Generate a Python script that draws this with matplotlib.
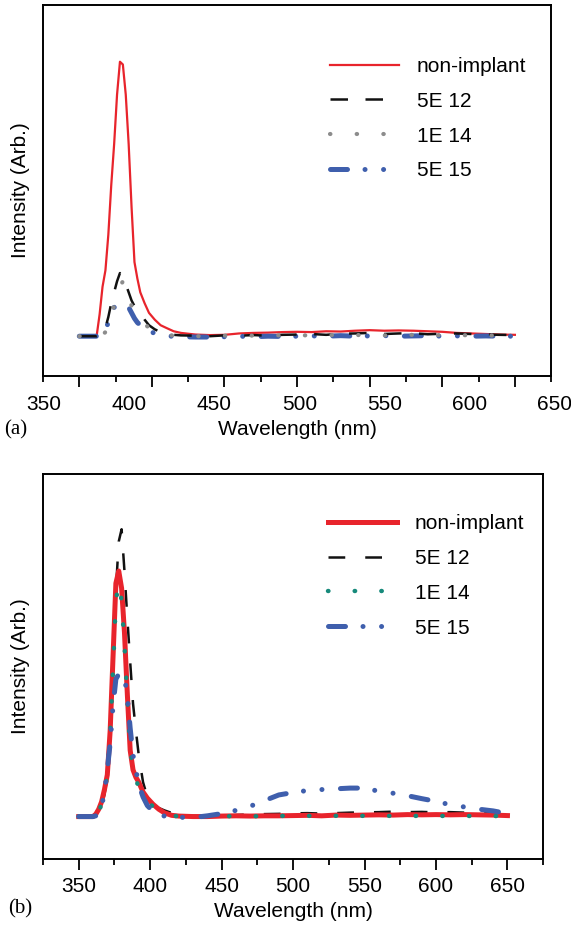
import numpy as np
import matplotlib
matplotlib.use("Agg")
import matplotlib.pyplot as plt

plt.rcParams["font.family"] = ["Liberation Sans", "DejaVu Sans"]
plt.rcParams["font.size"] = 15

# ── data (a) ─────────────────────────────────────────────────────────────
wl_a = [350, 355, 360, 362, 364, 366, 368, 370, 372, 374, 376, 378, 380, 382,
        384, 386, 388, 390, 392, 395, 398, 402, 406, 410, 415, 420, 430, 440,
        450, 460, 470, 480, 490, 500, 510, 520, 530, 540, 550, 560, 570, 580,
        590, 600, 610, 620, 630, 640, 650]
red_a = [0, 0, 0, 0.3, 8, 18, 24, 37, 55, 70, 88, 100, 99, 88,
         70, 47, 27, 21, 16, 12, 8.5, 6, 4, 3, 1.8, 1.2, 0.6, 0.4,
         0.5, 1.0, 1.2, 1.3, 1.5, 1.6, 1.5, 1.8, 1.7, 2.0, 2.2, 2.0, 2.1, 2.0,
         1.8, 1.6, 1.2, 1.0, 0.8, 0.6, 0.5]
blk_a = [0, 0, 0, 0, 0.3, 1, 3, 7, 12, 16, 20, 23, 22, 19,
         16, 13, 11, 10, 8.5, 6, 4, 2.5, 1.5, 1, 0.5, 0.3, 0.2, 0,
         0.3, 0.2, 0.4, 0.2, 0.5, 0.6, 0.8, 0.5, 0.9, 1.0, 1.2, 0.8, 1.0, 1.1,
         0.7, 0.9, 1.0, 0.8, 0.6, 0.5, 0.4]
gry_a = [0, 0, 0, 0, 0, 0.5, 1.5, 4, 8, 11, 14, 18, 20, 17,
         14, 11, 9, 7, 6, 4.5, 3, 2, 1, 0.5, 0.2, 0, 0, 0,
         0.2, 0.3, 0.2, 0.4, 0.3, 0.2, 0.4, 0.5, 0.3, 0.4, 0.5, 0.3, 0.4, 0.5,
         0.3, 0.4, 0.3, 0.4, 0.3, 0.2, 0.2]
blu_a = [0, 0, 0, 0, 0, 1, 2.5, 5, 8, 10.5, 11, 10.5, 11, 11.5,
         10.5, 8.5, 6.5, 5, 4, 3, 2, 1, 0.5, 0, 0, -0.2, -0.3, -0.3,
         -0.2, 0, -0.2, 0, -0.1, 0, 0.1, 0, 0.2, 0, 0.1, 0.2, 0, 0.1,
         0.2, 0, 0.1, 0, 0.1, 0, 0]

# ── data (b) ─────────────────────────────────────────────────────────────
wl_b = wl_a
red_b = [0, 0, 0, 1, 3, 6, 11, 17, 35, 65, 95, 100, 93, 75,
         50, 27, 19, 16, 14, 10, 7.5, 5, 3, 1.5, 0.5, 0.2, 0, 0,
         0.2, 0.3, 0.2, 0.3, 0.3, 0.4, 0.5, 0.3, 0.6, 0.5, 0.6, 0.7, 0.6, 0.8,
         0.7, 0.8, 0.7, 0.8, 0.7, 0.6, 0.4]
blk_b = [0, 0, 0, 0.5, 1.5, 4, 9, 16, 31, 62, 92, 112, 117, 100,
         81, 63, 46, 35, 25, 14, 8, 5, 3.5, 2.5, 1.5, 0.8, 0.3, 0.2,
         0.4, 0.6, 0.9, 1.0, 1.1, 1.3, 1.4, 1.2, 1.4, 1.6, 1.7, 1.8, 2.0, 1.8,
         1.9, 1.7, 1.8, 1.6, 1.4, 1.2, 0.8]
teal_b = [0, 0, 0, 0.5, 2, 5, 10, 17, 33, 60, 88, 95, 88, 70,
          48, 28, 19, 15, 12, 9, 6.5, 4, 2.5, 1.2, 0.5, 0, 0, 0,
          0.1, 0.2, 0.1, 0.2, 0.3, 0.2, 0.3, 0.2, 0.3, 0.2, 0.3, 0.2, 0.3, 0.2,
          0.3, 0.2, 0.3, 0.2, 0.3, 0.2, 0.2]
blu_b = [0, 0, 0, 0.3, 1.5, 4, 10, 19, 30, 45, 56, 58, 58, 57,
         49, 36, 25, 19, 13, 8, 4.5, 2, 0.8, 0.2, 0, -0.3, -0.4, 0.3,
         1.2, 2.5, 4.2, 6.5, 8.8, 9.8, 10.6, 11.0, 11.3, 11.6, 11.6, 10.3, 9.5, 8.5,
         7.3, 6.2, 4.8, 3.9, 3.0, 2.3, 1.2]

labels = ["non-implant", "5E 12", "1E 14", "5E 15"]
tick_vals = [350, 400, 450, 500, 550, 600, 650]

RED = "#e8242c"
BLUE = "#3f5fad"
DASH_DOT_DOT = (0, (3.4, 3.5, 0.01, 3.7, 0.01, 3.7))

fig = plt.figure(figsize=(5.71, 9.30), dpi=100)
ax_a = fig.add_axes([0.0753, 0.5957, 0.890, 0.399])
ax_b = fig.add_axes([0.0753, 0.0763, 0.876, 0.414])


def style_axes(ax):
    for sp in ax.spines.values():
        sp.set_linewidth(1.4)
    ax.set_yticks([])
    ax.set_xlim(325, 675)
    ax.set_xticks(tick_vals)
    ax.set_xticks(np.arange(375, 676, 50).tolist() + [325], minor=True)
    ax.tick_params(axis="x", which="major", length=8, width=1.3, direction="out")
    ax.tick_params(axis="x", which="minor", length=4, width=1.3, direction="out")
    ax.set_ylabel("Intensity (Arb.)", labelpad=9)


def add_legend(ax, handles, names, anchor):
    order = ["non-implant", "5E 12", "1E 14", "5E 15"]
    hs = [handles[names.index(n)] for n in order]
    ax.legend(hs, order, loc="upper left", bbox_to_anchor=anchor,
              frameon=False, fontsize=15, handlelength=3.3,
              handletextpad=0.85, labelspacing=0.76,
              borderpad=0, borderaxespad=0)


# ══════════════════════════════════════════════════════════════════════════
# (a)
# ══════════════════════════════════════════════════════════════════════════
ax = ax_a
ax.plot(wl_a, red_a, color=RED, lw=1.6, label=labels[0])
ax.plot(wl_a, blu_a, color=BLUE, lw=3.6, ls=DASH_DOT_DOT,
        dash_capstyle="round", label=labels[3])
ax.plot(wl_a, blk_a, color="#111111", lw=1.8, ls=(0, (7, 7)), label=labels[1])
ax.plot(wl_a, gry_a, color="#8c8c8c", lw=3.0, ls=(0, (0.1, 6.3)),
        dash_capstyle="round", label=labels[2])
style_axes(ax)
ax.set_ylim(-14.5, 120.7)
ax.tick_params(axis="x", labelbottom=False)

# tick labels in (a) are spread out and do not sit under the marks
lab_pos_a = [325.5, 384, 443, 501.5, 560.5, 619, 677.5]
for p, v in zip(lab_pos_a, tick_vals):
    ax.text(p, -0.078, str(v), transform=ax.get_xaxis_transform(),
            ha="center", va="center", fontsize=15)
ax.text(500, -0.145, "Wavelength (nm)", transform=ax.get_xaxis_transform(),
        ha="center", va="center", fontsize=15)
fig.text(0.008, 0.5376, "(a)", family="Liberation Serif", fontsize=15,
         ha="left", va="center")

h, l = ax.get_legend_handles_labels()
add_legend(ax, h, l, (0.565, 0.86))

# ══════════════════════════════════════════════════════════════════════════
# (b)
# ══════════════════════════════════════════════════════════════════════════
ax = ax_b
ax.plot(wl_b, blk_b, color="#111111", lw=1.8, ls=(0, (6.7, 8)), label=labels[1])
ax.plot(wl_b, red_b, color=RED, lw=3.6, label=labels[0])
ax.plot(wl_b, teal_b, color="#178a7b", lw=3.2, ls=(0, (0.1, 5.9)),
        dash_capstyle="round", label=labels[2])
ax.plot(wl_b, blu_b, color=BLUE, lw=3.6, ls=DASH_DOT_DOT,
        dash_capstyle="round", label=labels[3])
style_axes(ax)
ax.set_ylim(-17.3, 139.5)
ax.tick_params(axis="x", labelsize=15, pad=5)
ax.set_xlabel("Wavelength (nm)", labelpad=4)
fig.text(0.014, 0.0225, "(b)", family="Liberation Serif", fontsize=15,
         ha="left", va="center")

h, l = ax.get_legend_handles_labels()
add_legend(ax, h, l, (0.570, 0.896))

fig.savefig("out.png", dpi=100)
